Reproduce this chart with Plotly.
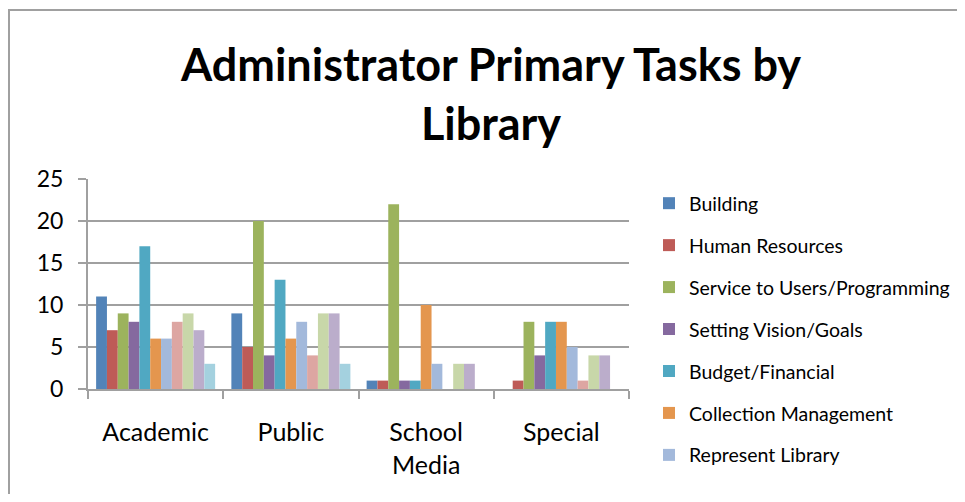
import plotly.graph_objects as go

categories = ["Academic", "Public", "School<br>Media", "Special"]
series_names = [
    "Building", "Human Resources", "Service to Users/Programming",
    "Setting Vision/Goals", "Budget/Financial", "Collection Management",
    "Represent Library", "Series 8", "Series 9", "Series 10", "Series 11",
]
values = [
    [11, 9, 1, 0],
    [7, 5, 1, 1],
    [9, 20, 22, 8],
    [8, 4, 1, 4],
    [17, 13, 1, 8],
    [6, 6, 10, 8],
    [6, 8, 3, 5],
    [8, 4, 0, 1],
    [9, 9, 3, 4],
    [7, 9, 3, 4],
    [3, 3, 0, 0],
]
colors = [
    "#5283B8", "#BE5B57", "#9CB35D", "#85699F", "#50A8C2", "#E4964E",
    "#A3B9DB", "#DDA6A2", "#C8D7A9", "#BBADCB", "#A4D1DF",
]
shown_in_legend = 7

FONT = "Lato, 'Liberation Sans', sans-serif"
OFF = 8  # page body margin
W, H = 965 - 2 * OFF, 502 - 2 * OFF

def nx(p):  # page x -> figure fraction
    return (p - OFF) / W

def ny(p):  # page y -> figure fraction (from bottom)
    return 1 - (p - OFF) / H

fig = go.Figure()
for i, (name, vals) in enumerate(zip(series_names, values)):
    fig.add_trace(go.Bar(
        x=categories, y=vals, name=name,
        marker=dict(color=colors[i], line=dict(width=0)),
        showlegend=i < shown_in_legend,
        legendgroup=f"g{i}",
    ))

fig.update_layout(
    width=W, height=H,
    template="none",
    paper_bgcolor="white", plot_bgcolor="rgba(0,0,0,0)",
    margin=dict(l=0, r=0, t=0, b=0, pad=0),
    barmode="group", bargap=0.12, bargroupgap=0,
    font=dict(family=FONT, color="black"),
    title=dict(
        text="<b>Administrator Primary Tasks by<br>Library</b>",
        font=dict(family=FONT, size=45, color="black"),
        x=nx(491), xanchor="center", xref="container",
        y=ny(81), yanchor="top", yref="container",
    ),
    legend=dict(
        x=nx(649), xanchor="left",
        y=ny(184), yanchor="top",
        font=dict(family=FONT, size=19.5, color="black"),
        tracegroupgap=13.6, itemwidth=30,
        bgcolor="rgba(0,0,0,0)",
    ),
    xaxis=dict(
        domain=[nx(88), nx(629)],
        showgrid=False, showline=True, linecolor="#A0A0A0", linewidth=2,
        ticks="outside", tickson="boundaries", ticklen=8, tickcolor="#A0A0A0",
        tickwidth=2, tickfont=dict(size=25, family=FONT), ticklabelstandoff=20,
    ),
    yaxis=dict(
        domain=[ny(389), ny(179)],
        range=[0, 25], tickvals=[0, 5, 10, 15, 20, 25],
        showgrid=True, gridcolor="#A0A0A0", gridwidth=2,
        showline=True, linecolor="#A0A0A0", linewidth=2,
        ticks="outside", ticklen=8, tickcolor="#A0A0A0", tickwidth=2,
        tickfont=dict(size=23, family=FONT), zeroline=False,
        ticklabelstandoff=10,
    ),
    shapes=[dict(
        type="rect", xref="paper", yref="paper",
        x0=1 / W, x1=1 + 10 / W, y0=-10 / H, y1=1 - 2 / H,
        line=dict(color="#A0A0A0", width=2), fillcolor="rgba(0,0,0,0)",
        layer="below",
    )],
)

fig.write_html("out.html")
